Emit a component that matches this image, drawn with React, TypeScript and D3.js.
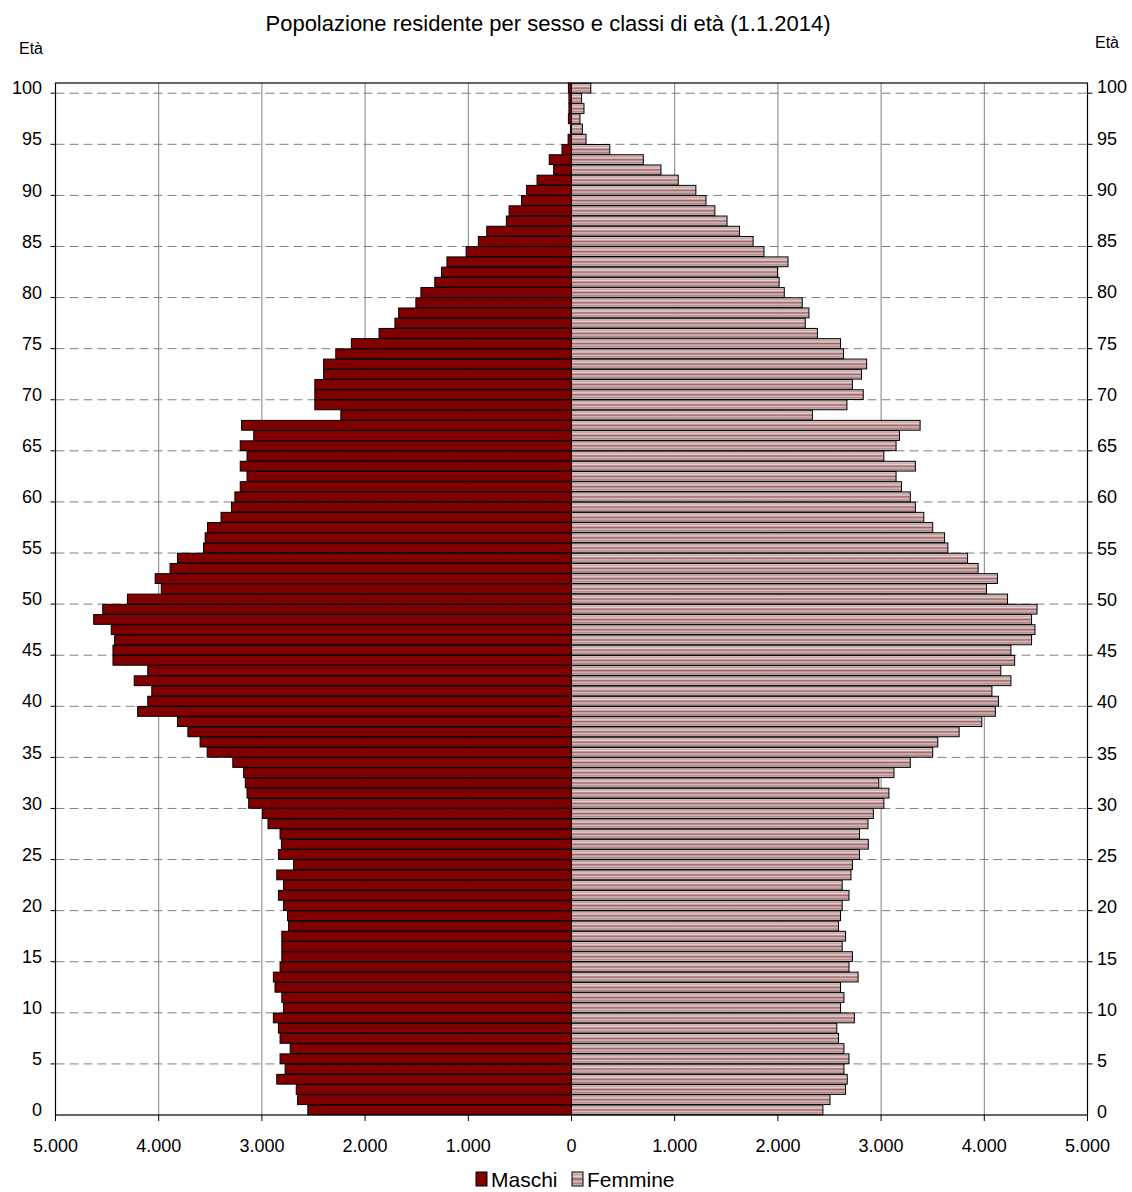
import { useEffect, useRef } from 'react';
import * as d3 from 'd3';

// Popolazione residente al 1.1.2014, età 0 ... 100 (indice = età)
const maschi = [
  2555, 2654, 2667, 2856, 2775, 2824, 2726, 2824, 2840, 2889,
  2791, 2807, 2873, 2889, 2824, 2807, 2807, 2807, 2742, 2752,
  2791, 2840, 2791, 2856, 2693, 2840, 2811, 2824, 2941, 2994,
  3128, 3144, 3161, 3177, 3282, 3530, 3599, 3717, 3818, 4204,
  4106, 4067, 4237, 4106, 4443, 4443, 4427, 4460, 4630, 4542,
  4303, 3975, 4034, 3890, 3818, 3566, 3550, 3527, 3396, 3295,
  3262, 3210, 3144, 3210, 3144, 3210, 3079, 3197, 2235, 2487,
  2487, 2487, 2402, 2402, 2284, 2133, 1865, 1711, 1675, 1508,
  1459, 1325, 1260, 1207, 1021, 903, 821, 631, 605, 484,
  435, 334, 173, 216, 92, 33, 10, 30, 25, 25,
  30,
];

const femmine = [
  2436, 2505, 2656, 2672, 2640, 2689, 2640, 2587, 2571, 2741,
  2607, 2640, 2607, 2777, 2689, 2722, 2623, 2656, 2587, 2607,
  2623, 2689, 2623, 2708, 2722, 2791, 2876, 2791, 2873, 2925,
  3027, 3076, 2978, 3125, 3283, 3500, 3549, 3756, 3976, 4107,
  4137, 4074, 4258, 4160, 4294, 4258, 4458, 4491, 4458, 4511,
  4225, 4021, 4127, 3940, 3838, 3647, 3615, 3500, 3414, 3332,
  3283, 3198, 3145, 3332, 3027, 3145, 3178, 3378, 2334, 2669,
  2827, 2722, 2810, 2860, 2636, 2607, 2383, 2265, 2301, 2236,
  2062, 2012, 1996, 2098, 1865, 1760, 1628, 1507, 1389, 1303,
  1205, 1034, 867, 696, 371, 141, 105, 82, 121, 98,
  187,
];

const ages = maschi.map((_, i) => i);
const ageTicks = [0, 5, 10, 15, 20, 25, 30, 35, 40, 45, 50, 55, 60, 65, 70, 75, 80, 85, 90, 95, 100];
const valueTicks = [-5000, -4000, -3000, -2000, -1000, 0, 1000, 2000, 3000, 4000, 5000];

const WIDTH = 1132;
const HEIGHT = 1192;
const FONT = '"Liberation Sans", Arial, sans-serif';

export default function App() {
  const svgRef = useRef<SVGSVGElement>(null);

  useEffect(() => {
    if (!svgRef.current) return;
    const svg = d3.select(svgRef.current);
    svg.selectAll("*").remove();

    const margin = { top: 83, right: 44.5, bottom: 77, left: 55.5 };
    const left = margin.left;
    const right = WIDTH - margin.right;
    const top = margin.top;
    const bottom = HEIGHT - margin.bottom;

    const x = d3.scaleLinear().domain([-5000, 5000]).range([left, right]);
    const y = d3.scaleBand<number>()
      .domain([...ages].reverse())
      .range([top, bottom])
      .paddingInner(0.04)
      .paddingOuter(0.02);
    const yRight = d3.scaleLinear().domain([0, 100]).range([1112, 87]);

    const it = d3.formatLocale({ decimal: ",", thousands: ".", grouping: [3], currency: ["", "€"] });
    const fmt = it.format(",");

    // gradient for the female bars (striped look)
    const defs = svg.append("defs");
    const grad = defs.append("linearGradient")
      .attr("id", "femGrad")
      .attr("x1", 0).attr("y1", 0).attr("x2", 0).attr("y2", 1);
    [
      [0, "#eee4e4"], [0.18, "#c2a0a0"], [0.33, "#e4d4d4"], [0.5, "#a06262"],
      [0.67, "#d6bebe"], [0.82, "#ad8282"], [1, "#ebe0e0"],
    ].forEach(([o, c]) => grad.append("stop").attr("offset", o as number).attr("stop-color", c as string));

    // title
    svg.append("text")
      .attr("x", 548).attr("y", 31)
      .attr("text-anchor", "middle")
      .attr("font-family", FONT).attr("font-size", 22)
      .text("Popolazione residente per sesso e classi di età (1.1.2014)");

    svg.append("text")
      .attr("x", 31).attr("y", 54)
      .attr("text-anchor", "middle")
      .attr("font-family", FONT).attr("font-size", 16)
      .text("Età");
    svg.append("text")
      .attr("x", 1107).attr("y", 48)
      .attr("text-anchor", "middle")
      .attr("font-family", FONT).attr("font-size", 16)
      .text("Età");

    // vertical gridlines
    svg.append("g")
      .selectAll("line")
      .data(valueTicks.filter(v => v !== 0 && Math.abs(v) !== 5000))
      .enter()
      .append("line")
      .attr("x1", d => x(d)).attr("x2", d => x(d))
      .attr("y1", top).attr("y2", bottom)
      .attr("stroke", "#808080").attr("stroke-width", 1);

    // dashed horizontal gridlines at class boundaries
    const boundary = (a: number) => (y(a) as number) + y.bandwidth() + (y.step() - y.bandwidth()) / 2;
    const dashAges = ageTicks.filter(a => a > 0);
    svg.append("g")
      .selectAll("line")
      .data(dashAges)
      .enter()
      .append("line")
      .attr("x1", left).attr("x2", right)
      .attr("y1", d => boundary(d)).attr("y2", d => boundary(d))
      .attr("stroke", "#808080").attr("stroke-width", 1)
      .attr("stroke-dasharray", "9,5");

    // male bars
    svg.append("g")
      .selectAll("rect")
      .data(ages)
      .enter()
      .append("rect")
      .attr("x", d => x(-maschi[d]))
      .attr("y", d => y(d) as number)
      .attr("width", d => x(0) - x(-maschi[d]))
      .attr("height", y.bandwidth())
      .attr("fill", "#800000")
      .attr("stroke", "#000").attr("stroke-width", 1);

    // female bars
    svg.append("g")
      .selectAll("rect")
      .data(ages)
      .enter()
      .append("rect")
      .attr("x", x(0))
      .attr("y", d => y(d) as number)
      .attr("width", d => x(femmine[d]) - x(0))
      .attr("height", y.bandwidth())
      .attr("fill", "url(#femGrad)")
      .attr("stroke", "#000").attr("stroke-width", 1);

    // plot frame
    svg.append("rect")
      .attr("x", left).attr("y", top)
      .attr("width", right - left).attr("height", bottom - top)
      .attr("fill", "none")
      .attr("stroke", "#000").attr("stroke-width", 1.2);

    // x axis ticks + labels
    const xAxis = svg.append("g");
    xAxis.selectAll("line")
      .data(valueTicks)
      .enter()
      .append("line")
      .attr("x1", d => x(d)).attr("x2", d => x(d))
      .attr("y1", bottom).attr("y2", bottom + 6)
      .attr("stroke", "#000");
    xAxis.selectAll("text")
      .data(valueTicks)
      .enter()
      .append("text")
      .attr("x", d => x(d)).attr("y", bottom + 37)
      .attr("text-anchor", "middle")
      .attr("font-family", FONT).attr("font-size", 18)
      .text(d => fmt(Math.abs(d)));

    // left age axis
    const yAxis = svg.append("g");
    yAxis.selectAll("line")
      .data(dashAges)
      .enter()
      .append("line")
      .attr("x1", left - 5).attr("x2", left)
      .attr("y1", d => boundary(d)).attr("y2", d => boundary(d))
      .attr("stroke", "#000");
    yAxis.selectAll("text")
      .data(ageTicks)
      .enter()
      .append("text")
      .attr("x", 42)
      .attr("y", d => (y(d) as number) + y.bandwidth() / 2)
      .attr("dy", "0.35em")
      .attr("text-anchor", "end")
      .attr("font-family", FONT).attr("font-size", 18)
      .text(d => d);

    // right age axis
    const yAxisR = svg.append("g");
    yAxisR.selectAll("line")
      .data(dashAges)
      .enter()
      .append("line")
      .attr("x1", right).attr("x2", right + 5)
      .attr("y1", d => boundary(d)).attr("y2", d => boundary(d))
      .attr("stroke", "#000");
    yAxisR.selectAll("text")
      .data(ageTicks)
      .enter()
      .append("text")
      .attr("x", 1097)
      .attr("y", d => yRight(d))
      .attr("dy", "0.35em")
      .attr("text-anchor", "start")
      .attr("font-family", FONT).attr("font-size", 18)
      .text(d => d);

    // legend
    const legend = svg.append("g").attr("transform", "translate(476, 1172)");
    legend.append("rect")
      .attr("x", 0).attr("y", 0).attr("width", 11).attr("height", 14)
      .attr("fill", "#800000").attr("stroke", "#000");
    legend.append("text")
      .attr("x", 15).attr("y", 15)
      .attr("font-family", FONT).attr("font-size", 21)
      .text("Maschi");
    legend.append("rect")
      .attr("x", 96).attr("y", 0).attr("width", 11).attr("height", 14)
      .attr("fill", "url(#femGrad)").attr("stroke", "#000");
    legend.append("text")
      .attr("x", 111).attr("y", 15)
      .attr("font-family", FONT).attr("font-size", 21)
      .text("Femmine");
  }, []);

  return (
    <svg
      ref={svgRef}
      width={WIDTH}
      height={HEIGHT}
      style={{ position: 'absolute', left: 0, top: 0, display: 'block', background: '#fff' }}
    />
  );
}
